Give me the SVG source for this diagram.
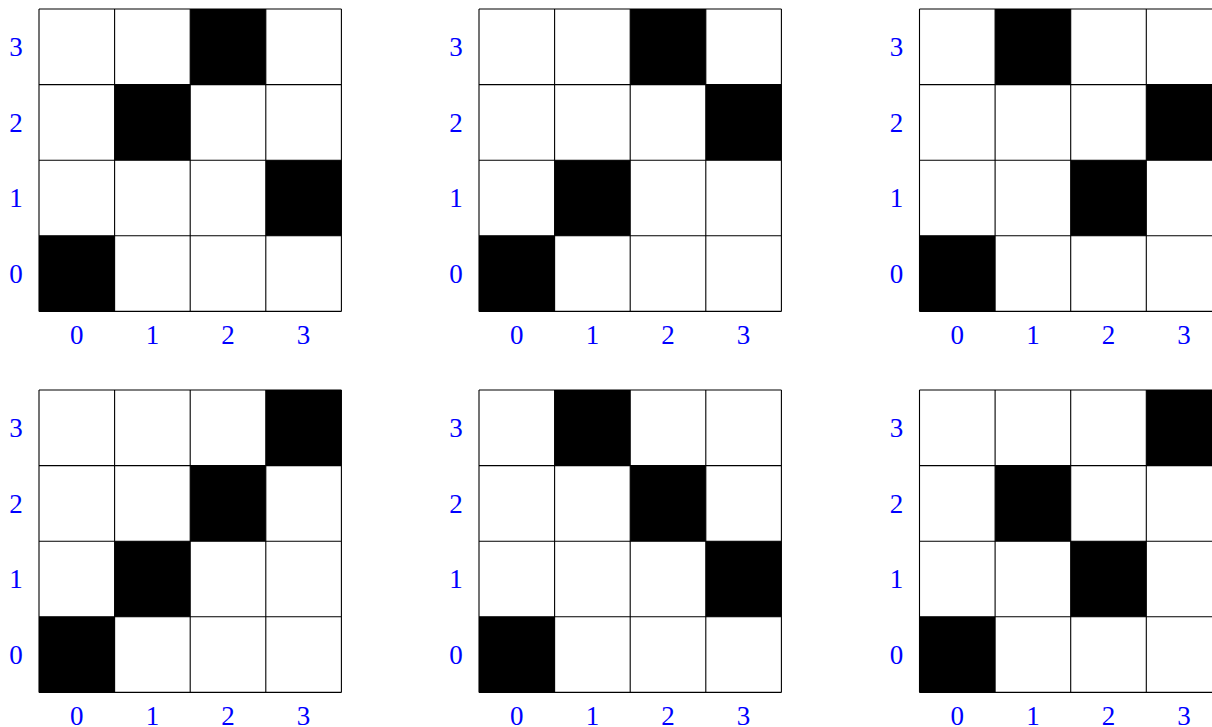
<svg xmlns="http://www.w3.org/2000/svg" xmlns:xlink="http://www.w3.org/1999/xlink" width="1212" height="727" viewBox="0 0 1212 727">
<defs>
<style>
.lbl{font-family:"Liberation Serif","DejaVu Serif",serif;font-size:27px;fill:#0000ff;text-anchor:middle}
.on{fill:#000}
.grid{fill:none;stroke:#000;stroke-width:1.1}
</style>
<path id="gridlines" class="grid" d="M0 0H302.4M0 75.6H302.4M0 151.2H302.4M0 226.8H302.4M0 302.4H302.4M0 0V302.4M75.6 0V302.4M151.2 0V302.4M226.8 0V302.4M302.4 0V302.4"/>
<g id="labels">
<text class="lbl" x="-23" y="47">3</text>
<text class="lbl" x="-23" y="122.6">2</text>
<text class="lbl" x="-23" y="198.2">1</text>
<text class="lbl" x="-23" y="273.8">0</text>
<text class="lbl" x="37.8" y="335.4">0</text>
<text class="lbl" x="113.4" y="335.4">1</text>
<text class="lbl" x="189" y="335.4">2</text>
<text class="lbl" x="264.6" y="335.4">3</text>
</g>
</defs>
<rect width="1212" height="727" fill="#fff"/>
<g id="grid1" transform="translate(39,9)">
<rect class="on" x="0" y="226.8" width="75.6" height="75.6"/>
<rect class="on" x="226.8" y="151.2" width="75.6" height="75.6"/>
<rect class="on" x="75.6" y="75.6" width="75.6" height="75.6"/>
<rect class="on" x="151.2" y="0" width="75.6" height="75.6"/>
<use xlink:href="#gridlines"/><use xlink:href="#labels"/>
</g>
<g id="grid2" transform="translate(479,9)">
<rect class="on" x="0" y="226.8" width="75.6" height="75.6"/>
<rect class="on" x="75.6" y="151.2" width="75.6" height="75.6"/>
<rect class="on" x="226.8" y="75.6" width="75.6" height="75.6"/>
<rect class="on" x="151.2" y="0" width="75.6" height="75.6"/>
<use xlink:href="#gridlines"/><use xlink:href="#labels"/>
</g>
<g id="grid3" transform="translate(919.5,9)">
<rect class="on" x="0" y="226.8" width="75.6" height="75.6"/>
<rect class="on" x="151.2" y="151.2" width="75.6" height="75.6"/>
<rect class="on" x="226.8" y="75.6" width="75.6" height="75.6"/>
<rect class="on" x="75.6" y="0" width="75.6" height="75.6"/>
<use xlink:href="#gridlines"/><use xlink:href="#labels"/>
</g>
<g id="grid4" transform="translate(39,390)">
<rect class="on" x="0" y="226.8" width="75.6" height="75.6"/>
<rect class="on" x="75.6" y="151.2" width="75.6" height="75.6"/>
<rect class="on" x="151.2" y="75.6" width="75.6" height="75.6"/>
<rect class="on" x="226.8" y="0" width="75.6" height="75.6"/>
<use xlink:href="#gridlines"/><use xlink:href="#labels"/>
</g>
<g id="grid5" transform="translate(479,390)">
<rect class="on" x="0" y="226.8" width="75.6" height="75.6"/>
<rect class="on" x="226.8" y="151.2" width="75.6" height="75.6"/>
<rect class="on" x="151.2" y="75.6" width="75.6" height="75.6"/>
<rect class="on" x="75.6" y="0" width="75.6" height="75.6"/>
<use xlink:href="#gridlines"/><use xlink:href="#labels"/>
</g>
<g id="grid6" transform="translate(919.5,390)">
<rect class="on" x="0" y="226.8" width="75.6" height="75.6"/>
<rect class="on" x="151.2" y="151.2" width="75.6" height="75.6"/>
<rect class="on" x="75.6" y="75.6" width="75.6" height="75.6"/>
<rect class="on" x="226.8" y="0" width="75.6" height="75.6"/>
<use xlink:href="#gridlines"/><use xlink:href="#labels"/>
</g>
<g id="connectors"/>
</svg>
